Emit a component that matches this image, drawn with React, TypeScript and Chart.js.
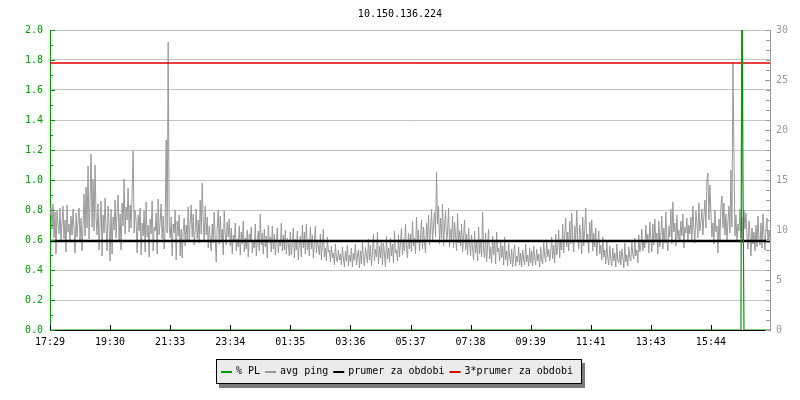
import React, { useEffect, useRef } from 'react';
import { Chart, registerables } from 'chart.js';

Chart.register(...registerables);

const TITLE = '10.150.136.224';
const X_TICK_LABELS = ['17:29', '19:30', '21:33', '23:34', '01:35', '03:36', '05:37', '07:38', '09:39', '11:41', '13:43', '15:44'];
const POINTS_PER_TICK = 60;

// avg ping in ms (right axis), one sample per ~2 minutes
const PING_MS = [
  11.5, 12.3, 10.1, 12.6, 9.2, 11.8, 7.6, 12.0, 10.5, 9.6,
  12.2, 8.9, 10.8, 12.4, 9.1, 11.0, 7.8, 12.5, 9.8, 10.6,
  8.8, 11.4, 9.5, 12.1, 10.0, 7.7, 11.7, 9.3, 10.9, 12.2,
  9.0, 11.2, 7.9, 10.4, 13.6, 9.4, 14.3, 10.2, 16.4, 9.1,
  12.8, 17.6, 10.3, 15.1, 9.9, 16.5, 11.2, 9.5, 12.6, 8.0,
  10.7, 12.9, 7.4, 11.5, 9.7, 13.2, 10.1, 7.9, 12.4, 10.6,
  6.9, 12.1, 7.6, 11.3, 10.0, 13.0, 9.2, 11.8, 13.5, 9.0,
  11.6, 8.0, 12.7, 10.4, 15.1, 9.6, 12.3, 11.0, 14.2, 9.8,
  12.5, 10.2, 13.8, 17.9, 9.7, 12.0, 10.9, 7.7, 11.5, 9.9,
  12.2, 7.5, 10.7, 9.4, 11.9, 7.8, 12.8, 9.3, 10.5, 7.3,
  11.1, 9.6, 12.9, 7.9, 10.3, 9.9, 11.7, 7.6, 13.1, 9.5,
  10.8, 12.6, 9.1, 11.4, 8.1, 10.2, 19.0, 9.7, 28.8, 10.4,
  9.2, 11.3, 7.4, 10.6, 9.7, 12.0, 7.0, 10.9, 9.4, 11.5,
  7.4, 10.1, 7.2, 9.9, 11.2, 8.4, 10.5, 9.0, 12.3, 8.8,
  10.7, 12.5, 9.3, 11.6, 8.5, 10.0, 12.1, 9.1, 11.0, 8.7,
  13.0, 9.6, 14.7, 10.8, 8.9, 12.4, 9.5, 11.3, 8.2, 10.4,
  9.1, 7.9, 10.6, 8.7, 11.8, 9.2, 6.8, 10.3, 12.0, 8.6,
  11.4, 9.0, 10.1, 7.5, 11.9, 9.6, 8.5, 10.8, 9.3, 11.1,
  8.4, 10.2, 7.6, 9.5, 8.8, 10.7, 7.9, 9.1, 8.3, 10.4,
  7.5, 9.8, 8.6, 10.9, 7.8, 9.2, 8.1, 10.0, 7.3, 9.6,
  8.9, 10.3, 7.7, 9.0, 8.2, 10.6, 7.4, 8.8, 9.9, 7.9,
  11.6, 8.5, 9.7, 7.6, 10.1, 8.3, 9.4, 7.2, 10.5, 8.7,
  9.3, 7.8, 10.4, 8.1, 9.6, 7.5, 8.9, 10.2, 7.7, 9.0,
  8.4, 10.7, 7.9, 9.5, 8.0, 10.0, 7.6, 9.2, 8.6, 7.4,
  9.8, 7.5, 8.7, 10.2, 7.2, 9.1, 8.0, 9.9, 7.0, 8.6,
  9.4, 7.3, 10.5, 8.2, 9.8, 7.6, 10.6, 8.0, 9.1, 7.4,
  10.3, 8.1, 9.5, 7.2, 8.8, 10.4, 7.7, 9.0, 8.3, 7.5,
  9.6, 7.0, 8.5, 10.1, 7.3, 8.2, 6.9, 9.3, 7.8, 8.0,
  6.8, 8.4, 7.2, 7.7, 6.5, 8.6, 7.1, 6.8, 8.0, 7.0,
  7.6, 6.5, 8.3, 7.2, 6.3, 7.9, 6.9, 8.5, 6.4, 7.5,
  6.8, 8.2, 6.3, 7.7, 7.0, 8.6, 6.5, 7.4, 8.0, 6.2,
  7.9, 6.6, 8.8, 7.1, 6.4, 8.3, 7.5, 6.7, 9.1, 7.0,
  8.5, 6.4, 7.8, 9.6, 6.9, 8.1, 7.3, 9.8, 6.6, 8.4,
  7.2, 9.0, 6.5, 8.7, 7.6, 6.3, 9.4, 7.1, 8.2, 6.8,
  9.2, 7.4, 8.6, 6.7, 9.9, 7.7, 8.0, 6.9, 9.5, 7.3,
  8.8, 10.2, 7.5, 9.1, 7.9, 10.6, 8.3, 7.2, 9.7, 8.1,
  9.6, 7.8, 10.9, 8.4, 9.2, 7.6, 11.3, 8.7, 10.0, 7.9,
  9.4, 11.0, 8.1, 10.3, 8.8, 7.7, 10.7, 9.0, 11.5, 8.5,
  9.8, 12.1, 8.9, 10.4, 11.8, 9.3, 15.8, 10.6, 12.4, 8.6,
  11.2, 9.1, 12.6, 8.4, 10.5, 11.9, 8.8, 9.7, 12.2, 8.3,
  10.1, 9.0, 11.4, 8.2, 10.8, 9.5, 7.9, 11.7, 8.7, 9.9,
  8.4, 10.6, 7.8, 9.3, 11.0, 8.0, 9.6, 7.5, 10.2, 8.6,
  7.4, 9.5, 8.1, 7.0, 9.9, 7.7, 8.8, 6.9, 10.3, 7.6,
  9.1, 7.3, 11.8, 8.0, 7.2, 9.7, 6.8, 8.5, 10.1, 7.1,
  8.3, 6.7, 9.4, 7.5, 8.9, 6.6, 9.8, 7.8, 8.2, 6.9,
  9.0, 7.2, 8.4, 6.5, 9.3, 7.0, 7.9, 6.4, 8.7, 7.3,
  6.6, 8.1, 6.3, 7.6, 8.5, 6.4, 7.4, 6.8, 8.3, 6.5,
  7.7, 6.3, 8.0, 7.1, 6.5, 8.6, 6.8, 7.5, 6.4, 8.2,
  6.7, 7.9, 6.4, 8.4, 7.2, 6.5, 8.1, 6.9, 7.6, 6.3,
  8.3, 7.0, 6.6, 8.8, 7.4, 6.8, 9.0, 7.3, 8.1, 6.9,
  7.8, 9.3, 7.1, 8.5, 6.7, 9.6, 7.5, 8.2, 10.0, 7.2,
  9.1, 8.0, 10.6, 7.7, 9.4, 11.2, 8.3, 9.8, 7.9, 10.9,
  8.6, 11.7, 9.0, 7.8, 10.4, 8.8, 12.0, 9.2, 8.1, 10.5,
  9.5, 7.6, 11.3, 8.4, 10.0, 12.2, 8.7, 9.6, 7.7, 10.8,
  8.9, 11.0, 7.9, 9.7, 8.3, 10.2, 7.4, 8.8, 9.9, 7.6,
  8.5, 7.0, 9.3, 7.3, 8.0, 6.6, 8.9, 7.2, 6.5, 8.4,
  7.1, 6.4, 8.2, 6.9, 7.7, 6.3, 8.6, 7.0, 6.7, 7.9,
  6.5, 8.1, 7.3, 6.2, 8.7, 6.8, 7.5, 6.4, 8.3, 7.2,
  6.9, 8.8, 7.6, 7.1, 9.2, 7.4, 8.0, 6.7, 9.5, 7.8,
  8.4, 10.1, 7.9, 9.0, 8.2, 10.5, 8.7, 9.6, 7.7, 10.8,
  9.2, 7.8, 10.6, 8.5, 11.1, 8.9, 9.7, 7.6, 10.9, 8.3,
  9.5, 11.4, 8.1, 10.2, 8.7, 11.8, 9.0, 7.9, 10.4, 9.3,
  12.1, 8.6, 12.8, 9.8, 10.7, 8.4, 11.5, 9.1, 10.0, 8.8,
  10.9, 9.4, 11.6, 8.2, 10.3, 9.7, 11.2, 8.9, 10.5, 9.6,
  11.3, 9.0, 12.4, 10.1, 8.7, 11.9, 10.6, 9.2, 12.7, 9.9,
  10.8, 12.1, 9.5, 11.4, 13.0, 10.2, 15.0, 15.7, 11.0, 14.5,
  11.8, 9.3, 10.7, 8.6, 12.0, 9.8, 10.4, 7.7, 11.1, 9.0,
  12.3, 13.4, 10.2, 12.7, 9.5, 11.6, 8.9, 10.8, 12.4, 9.7,
  16.0, 10.3, 26.7, 17.8, 9.4, 11.5, 8.8, 10.6, 9.9, 12.1,
  9.2, 11.3, 8.7, 12.0, 10.1, 11.7, 9.3, 8.1, 10.9, 9.6,
  7.4, 10.2, 8.6, 9.8, 7.9, 10.5, 8.3, 11.4, 9.0, 8.5,
  10.7, 8.2, 11.6, 9.4, 8.0, 10.3, 11.2, 8.7, 10.0, 9.1,
];

// packet loss in % (left axis): zero except these samples
const PL_INDEX = [690, 691, 692, 693];
const PL_VALUE = [0, 2.6, 1.0, 0];

const MEAN_MS = 8.9;
const MEAN3_MS = 26.7;

const GREEN = '#009a00';
const GRAY = '#999999';
const RED = '#e00000';
const GRID = '#c4c4c4';
const FONT = '"DejaVu Sans Mono", monospace';

const isMajorLeft = (v: number) => Math.round(v * 10) % 2 === 0;

const tickMarks = {
  id: 'tickMarks',
  afterDraw(chart: any) {
    const ctx = chart.ctx;
    const { left, right, bottom } = chart.chartArea;
    ctx.save();
    ctx.lineWidth = 1;
    const y = chart.scales.y;
    ctx.strokeStyle = GREEN;
    y.ticks.forEach((t: any) => {
      const py = Math.round(y.getPixelForValue(t.value)) + 0.5;
      ctx.beginPath();
      ctx.moveTo(left, py);
      ctx.lineTo(left + (isMajorLeft(t.value) ? 5 : 3), py);
      ctx.stroke();
    });
    const y1 = chart.scales.y1;
    ctx.strokeStyle = GRAY;
    y1.ticks.forEach((t: any) => {
      const py = Math.round(y1.getPixelForValue(t.value)) + 0.5;
      ctx.beginPath();
      ctx.moveTo(right, py);
      ctx.lineTo(right - (Math.round(t.value) % 5 === 0 ? 5 : 4), py);
      ctx.stroke();
    });
    const x = chart.scales.x;
    ctx.strokeStyle = '#000';
    x.ticks.forEach((t: any) => {
      const px = Math.round(x.getPixelForValue(t.value)) + 0.5;
      ctx.beginPath();
      ctx.moveTo(px, bottom);
      ctx.lineTo(px, bottom - 5);
      ctx.stroke();
    });
    ctx.restore();
  },
};

const boxLegend = {
  id: 'boxLegend',
  afterDraw(chart: any) {
    const ctx = chart.ctx;
    ctx.save();
    ctx.font = '10px ' + FONT;
    const items = chart.data.datasets.map((ds: any) => ({
      label: ds.label,
      color: ds.borderColor,
      w: ctx.measureText(ds.label).width,
    }));
    const SW = 11, GAP = 4, ITEM_GAP = 5, PADL = 5, PADR = 9;
    const inner = items.reduce((s: number, it: any) => s + SW + GAP + it.w, 0) + ITEM_GAP * (items.length - 1);
    const boxW = Math.round(inner + PADL + PADR);
    const boxL = Math.round((chart.width - boxW) / 2) - 1;
    const boxT = 359, boxH = 25;
    ctx.fillStyle = '#7a7a7a';
    ctx.fillRect(boxL + 3, boxT + 4, boxW, boxH);
    ctx.fillStyle = '#ebebeb';
    ctx.fillRect(boxL, boxT, boxW, boxH);
    ctx.strokeStyle = '#000';
    ctx.lineWidth = 1;
    ctx.strokeRect(boxL + 0.5, boxT + 0.5, boxW - 1, boxH - 1);
    let cx = boxL + PADL;
    const cy = boxT + 12;
    ctx.textBaseline = 'middle';
    ctx.textAlign = 'left';
    items.forEach((it: any) => {
      ctx.fillStyle = it.color;
      ctx.fillRect(cx, cy, SW, 2);
      cx += SW + GAP;
      ctx.fillStyle = '#000';
      ctx.fillText(it.label, cx, cy);
      cx += it.w + ITEM_GAP;
    });
    ctx.restore();
  },
};

export default function App() {
  const ref = useRef<HTMLCanvasElement>(null);
  useEffect(() => {
    document.body.style.margin = '0';
    const canvas = ref.current;
    if (!canvas) return;
    const labels = PING_MS.map((_, i) => (i % POINTS_PER_TICK === 0 ? X_TICK_LABELS[i / POINTS_PER_TICK] || '' : ''));
    const plData = PING_MS.map((_, i) => {
      const k = PL_INDEX.indexOf(i);
      return k >= 0 ? PL_VALUE[k] : 0;
    });
    Chart.defaults.font.family = FONT;
    const chart = new Chart(canvas, {
      type: 'line',
      data: {
        labels,
        datasets: [
          { label: '% PL', data: plData, yAxisID: 'y', borderColor: GREEN, backgroundColor: GREEN, borderWidth: 1.2, pointRadius: 0, order: 0 },
          { label: 'avg ping', data: PING_MS, yAxisID: 'y1', borderColor: GRAY, backgroundColor: GRAY, borderWidth: 1, pointRadius: 0, order: 3 },
          { label: 'prumer za obdobi', data: labels.map(() => MEAN_MS), yAxisID: 'y1', borderColor: '#000', backgroundColor: '#000', borderWidth: 2.5, pointRadius: 0, order: 1 },
          { label: '3*prumer za obdobi', data: labels.map(() => MEAN3_MS), yAxisID: 'y1', borderColor: RED, backgroundColor: RED, borderWidth: 1.5, pointRadius: 0, order: 2 },
        ],
      },
      options: {
        responsive: false,
        animation: false,
        devicePixelRatio: 1,
        layout: { padding: { left: 0, right: 0, top: 0, bottom: 50 } },
        plugins: {
          legend: { display: false },
          tooltip: { enabled: false },
          title: {
            display: true,
            text: TITLE,
            color: '#000',
            font: { family: FONT, size: 10, weight: 'normal' },
            padding: { top: 8, bottom: 10 },
          },
        },
        scales: {
          x: {
            type: 'category',
            z: 1,
            grid: { display: false, drawTicks: false },
            border: { color: '#000', width: 1 },
            afterBuildTicks: (scale: any) => {
              scale.ticks = scale.ticks.filter((t: any) => t.value % POINTS_PER_TICK === 0);
            },
            afterFit: (scale: any) => { scale.height = 20; },
            ticks: { autoSkip: false, maxRotation: 0, minRotation: 0, padding: 6, color: '#000', font: { family: FONT, size: 10 } },
          },
          y: {
            position: 'left',
            min: 0,
            max: 2,
            afterFit: (scale: any) => { scale.width = 50; },
            border: { color: GREEN, width: 1 },
            grid: {
              drawTicks: false,
              color: (c: any) => (c.tick && isMajorLeft(c.tick.value) ? GRID : 'rgba(0,0,0,0)'),
            },
            ticks: {
              autoSkip: false,
              stepSize: 0.1,
              maxTicksLimit: 100,
              padding: 7,
              color: GREEN,
              font: { family: FONT, size: 10 },
              callback: (v: any) => (isMajorLeft(Number(v)) ? Number(v).toFixed(1) : ''),
            },
          },
          y1: {
            position: 'right',
            min: 0,
            max: 30,
            afterFit: (scale: any) => { scale.width = 30; },
            border: { color: GRAY, width: 1 },
            grid: { drawOnChartArea: false, drawTicks: false },
            ticks: {
              autoSkip: false,
              stepSize: 1,
              maxTicksLimit: 100,
              padding: 6,
              color: GRAY,
              font: { family: FONT, size: 10 },
              callback: (v: any) => (Math.round(Number(v)) % 5 === 0 ? String(v) : ''),
            },
          },
        },
      },
      plugins: [tickMarks, boxLegend],
    });
    return () => chart.destroy();
  }, []);
  return (
    <div style={{ width: 800, height: 400 }}>
      <canvas ref={ref} width={800} height={400} style={{ display: 'block' }} />
    </div>
  );
}
